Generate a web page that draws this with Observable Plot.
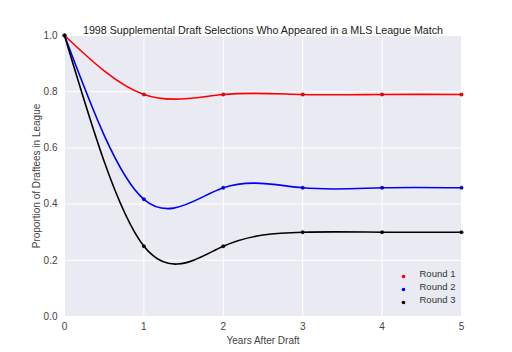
<!DOCTYPE html>
<html><head><meta charset="utf-8">
<script src="https://cdn.jsdelivr.net/npm/d3@7"></script>
<script src="https://cdn.jsdelivr.net/npm/@observablehq/plot@0.6"></script>
<style>body{margin:0;background:#fff;font-family:"Liberation Sans",Arial,sans-serif;}</style>
</head><body><div id="chart"></div>
<script>
const years = [0, 1, 2, 3, 4, 5];
const seriesNames = ["Round 1", "Round 2", "Round 3"];
const seriesColors = ["#ff0000", "#0000ff", "#000000"];
const round1 = [1.0, 0.79, 0.79, 0.79, 0.79, 0.79];
const round2 = [1.0, 0.417, 0.458, 0.458, 0.458, 0.458];
const round3 = [1.0, 0.25, 0.25, 0.30, 0.30, 0.30];
const xTicks = [0, 1, 2, 3, 4, 5];
const yTicks = [0, 0.2, 0.4, 0.6, 0.8, 1.0];
const title = "1998 Supplemental Draft Selections Who Appeared in a MLS League Match";

const allSeries = [round1, round2, round3];
const data = [];
allSeries.forEach((vals, i) => vals.forEach((v, j) => data.push({x: years[j], y: v, s: seriesNames[i]})));
const legend = seriesNames.map((s, i) => ({s, i}));

const plot = Plot.plot({
  width: 512, height: 352,
  marginLeft: 64, marginRight: 51, marginTop: 35, marginBottom: 36,
  style: {fontFamily: "Liberation Sans, Arial, sans-serif", fontSize: "10px", color: "#444", background: "#fff"},
  x: {domain: [0, 5]},
  y: {domain: [0, 1]},
  color: {domain: seriesNames, range: seriesColors},
  marks: [
    Plot.frame({fill: "#EAEAF2", stroke: "none"}),
    Plot.gridX(xTicks, {stroke: "#fff", strokeOpacity: 1, strokeWidth: 1}),
    Plot.gridY(yTicks, {stroke: "#fff", strokeOpacity: 1, strokeWidth: 1}),
    Plot.axisX({ticks: xTicks, tickSize: 0, tickPadding: 6, tickFormat: d3.format("d"), label: "Years After Draft", labelAnchor: "center", labelOffset: 27, labelArrow: "none", fontSize: 10}),
    Plot.axisY({ticks: yTicks, tickSize: 0, tickPadding: 7, tickFormat: d3.format(".1f"), label: "Proportion of Draftees in League", labelAnchor: "center", labelOffset: 32, labelArrow: "none", fontSize: 10}),
    Plot.line(data, {x: "x", y: "y", z: "s", stroke: "s", curve: "natural", strokeWidth: 1.6}),
    Plot.dot(data, {x: "x", y: "y", fill: "s", r: 1.8, stroke: "#000", strokeWidth: 0.5, strokeOpacity: 0.5}),
    ...legend.map((d) => Plot.dot([d], {frameAnchor: "bottom-right", dx: -58, dy: -40 + 13 * d.i, fill: "s", r: 1.8})),
    ...legend.map((d) => Plot.text([d], {frameAnchor: "bottom-right", dx: -42, dy: -40 + 13 * d.i, text: "s", textAnchor: "start", fontSize: 9.5, fill: "#333"})),
    Plot.text([title], {frameAnchor: "top", dy: -2, fontSize: 10.7, fill: "#222", lineAnchor: "bottom"})
  ]
});
document.getElementById("chart").appendChild(plot);
</script></body></html>
